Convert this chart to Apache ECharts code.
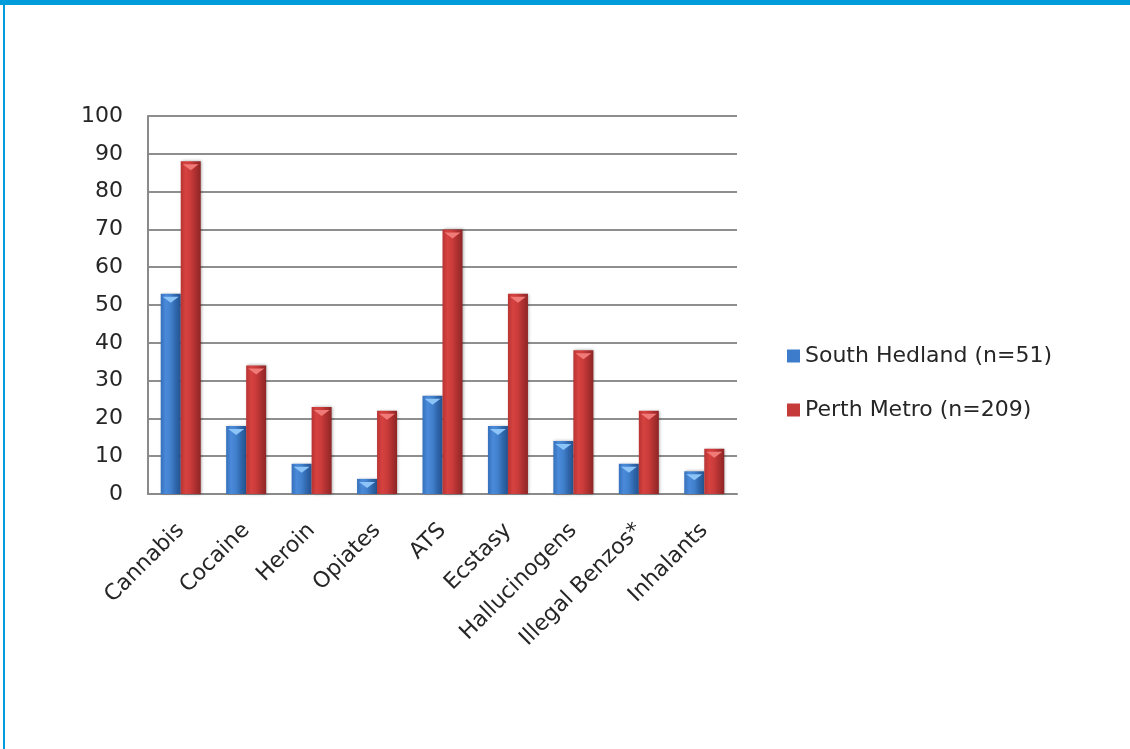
<!DOCTYPE html>
<html>
<head>
<meta charset="utf-8">
<script src="https://cdn.jsdelivr.net/npm/echarts@6/dist/echarts.min.js"></script>
<style>
  html, body { margin: 0; padding: 0; background: #ffffff; }
  #chart { width: 1130px; height: 749px; }
</style>
</head>
<body>
<div id="chart"></div>
<script>
// Lifetime drug use (%) by location
const categories = ['Cannabis', 'Cocaine', 'Heroin', 'Opiates', 'ATS', 'Ecstasy', 'Hallucinogens', 'Illegal Benzos*', 'Inhalants'];
const southHedland = [53, 18, 8, 4, 26, 18, 14, 8, 6];
const perthMetro = [88, 34, 23, 22, 70, 53, 38, 22, 12];
const seriesNames = ['South Hedland (n=51)', 'Perth Metro (n=209)'];
const yTicks = { min: 0, max: 100, interval: 10 };

const FONT = '"DejaVu Sans", Verdana, sans-serif';

function shade(stops) {
  return new echarts.graphic.LinearGradient(0, 0, 1, 0,
    stops.map((c, i) => ({ offset: i / (stops.length - 1), color: c })));
}
const blueFill = shade(['#3570bb', '#4a8ad9', '#4180cc', '#2f66ab', '#24538f']);
const redFill = shade(['#b83434', '#d6423f', '#c93b3a', '#ab2f2f', '#8e2525']);

// inverted triangle cap sitting on each bar top
const capPath = 'path://M0,0L20,0L10,7Z';

const chart = echarts.init(document.getElementById('chart'), null, { renderer: 'canvas' });

chart.setOption({
  backgroundColor: '#ffffff',
  animation: false,
  graphic: [
    { type: 'rect', shape: { x: 0, y: 0, width: 1130, height: 5 }, style: { fill: '#019ddb' }, z: 10 },
    { type: 'rect', shape: { x: 3, y: 5, width: 2, height: 744 }, style: { fill: '#019ddb' }, z: 10 }
  ],
  grid: { left: 148, right: 393, top: 116, bottom: 255, containLabel: false },
  legend: {
    orient: 'vertical',
    left: 782,
    top: 340,
    itemGap: 32,
    itemWidth: 13,
    itemHeight: 13,
    icon: 'rect',
    data: [
      { name: seriesNames[0], itemStyle: { color: '#3d7cca' } },
      { name: seriesNames[1], itemStyle: { color: '#c53b3a' } }
    ],
    textStyle: { fontFamily: FONT, fontSize: 22, color: '#262626', padding: [0, 0, 0, 0] }
  },
  xAxis: {
    type: 'category',
    data: categories,
    axisLine: { show: true, lineStyle: { color: '#8a8a8a', width: 2 } },
    axisTick: { show: false },
    axisLabel: {
      rotate: 45,
      interval: 0,
      margin: 33,
      fontFamily: FONT,
      fontSize: 22,
      color: '#262626'
    }
  },
  yAxis: {
    type: 'value',
    min: yTicks.min,
    max: yTicks.max,
    interval: yTicks.interval,
    axisLine: { show: true, lineStyle: { color: '#8a8a8a', width: 2 } },
    axisTick: { show: false },
    axisLabel: { margin: 25, fontFamily: FONT, fontSize: 22, color: '#262626' },
    splitLine: { show: true, lineStyle: { color: '#8e8e8e', width: 2 } }
  },
  series: [
    {
      name: seriesNames[0],
      type: 'bar',
      data: southHedland,
      barWidth: 20,
      barGap: 0,
      itemStyle: { color: blueFill, shadowBlur: 3, shadowColor: 'rgba(0,0,0,0.35)', shadowOffsetX: 1 },
      z: 2
    },
    {
      name: seriesNames[1],
      type: 'bar',
      data: perthMetro,
      barWidth: 20,
      barGap: 0,
      itemStyle: { color: redFill, shadowBlur: 3, shadowColor: 'rgba(0,0,0,0.35)', shadowOffsetX: 1 },
      z: 2
    },
    {
      name: seriesNames[0] + ' cap',
      type: 'pictorialBar',
      data: southHedland,
      barWidth: 20,
      barGap: 0,
      symbol: capPath,
      symbolSize: [16, 6],
      symbolPosition: 'end',
      symbolOffset: [0, 3],
      itemStyle: { color: '#8cc4f7' },
      silent: true,
      z: 4
    },
    {
      name: seriesNames[1] + ' cap',
      type: 'pictorialBar',
      data: perthMetro,
      barWidth: 20,
      barGap: 0,
      symbol: capPath,
      symbolSize: [16, 6],
      symbolPosition: 'end',
      symbolOffset: [0, 3],
      itemStyle: { color: '#f07a78' },
      silent: true,
      z: 4
    }
  ]
});
</script>
</body>
</html>
